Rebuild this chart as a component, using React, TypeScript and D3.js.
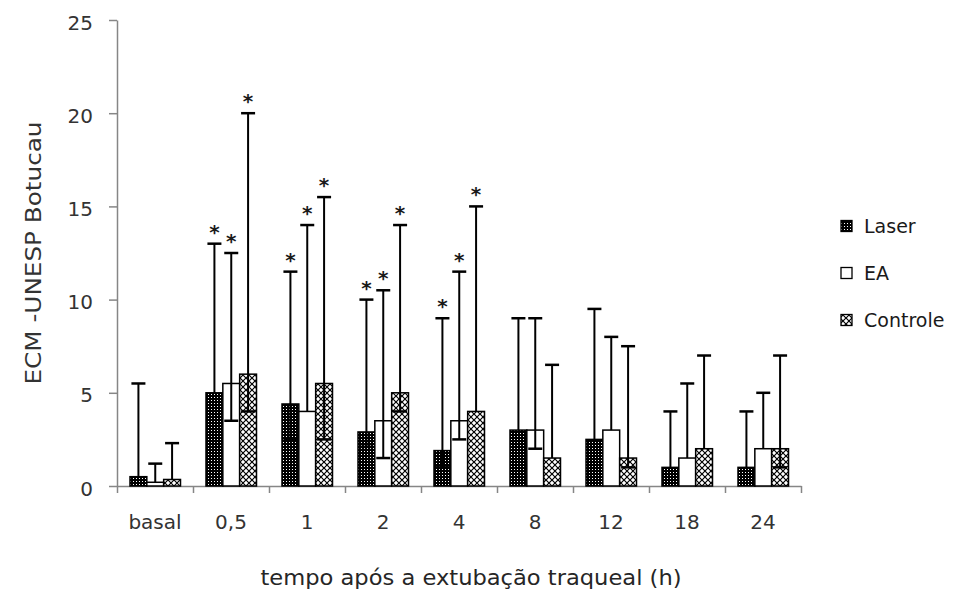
import React, { useEffect, useRef } from 'react'
import * as d3 from 'd3'

// categories on the x axis (hours after extubation)
const categories = ['basal', '0,5', '1', '2', '4', '8', '12', '18', '24']
const seriesNames = ['Laser', 'EA', 'Controle']

// bar heights
const laser = [0.5, 5, 4.4, 2.9, 1.9, 3, 2.5, 1, 1]
const ea = [0.2, 5.5, 4, 3.5, 3.5, 3, 3, 1.5, 2]
const controle = [0.35, 6, 5.5, 5, 4, 1.5, 1.5, 2, 2]

// upper end of the error bars
const laserHigh = [5.5, 13, 11.5, 10, 9, 9, 9.5, 4, 4]
const eaHigh = [1.2, 12.5, 14, 10.5, 11.5, 9, 8, 5.5, 5]
const controleHigh = [2.3, 20, 15.5, 14, 15, 6.5, 7.5, 7, 7]

// lower end of the error bars
const laserLow = [0.5, 5, 2.5, 2.1, 1, 3, 2.5, 1, 1]
const eaLow = [0.2, 3.5, 4, 1.5, 2.5, 2, 3, 1.5, 2]
const controleLow = [0.35, 4, 2.5, 4, 4, 1.5, 1, 2, 1]

// asterisk above every bar of these groups
const significant = [false, true, true, true, true, false, false, false, false]

const yTicks = [0, 5, 10, 15, 20, 25]

const App = () => {
  const svgRef = useRef<SVGSVGElement>(null)

  useEffect(() => {
    const w = 955
    const h = 596
    const svg = d3.select(svgRef.current)
    svg.selectAll('*').remove()
    svg.attr('width', w).attr('height', h)

    const font = '"DejaVu Sans", Verdana, sans-serif'
    const left = 117, right = 801, top = 20, bottom = 486

    const series = [
      { name: seriesNames[0], mean: laser, high: laserHigh, low: laserLow, fill: 'url(#patLaser)' },
      { name: seriesNames[1], mean: ea, high: eaHigh, low: eaLow, fill: '#fff' },
      { name: seriesNames[2], mean: controle, high: controleHigh, low: controleLow, fill: 'url(#patControle)' },
    ]

    // patterns
    const defs = svg.append('defs')
    const pl = defs.append('pattern').attr('id', 'patLaser')
      .attr('patternUnits', 'userSpaceOnUse').attr('width', 3).attr('height', 3)
    pl.append('rect').attr('width', 3).attr('height', 3).attr('fill', '#000')
    pl.append('rect').attr('x', 1).attr('y', 1).attr('width', 1).attr('height', 1).attr('fill', '#fff')

    const pc = defs.append('pattern').attr('id', 'patControle')
      .attr('patternUnits', 'userSpaceOnUse').attr('width', 6).attr('height', 6)
    pc.append('rect').attr('width', 6).attr('height', 6).attr('fill', '#fff')
    pc.append('path').attr('d', 'M0,0L6,6M6,0L0,6').attr('stroke', '#000').attr('stroke-width', 1.2)

    // scales
    const x = d3.scaleBand().domain(categories).range([left, right]).padding(0)
    const xEdge = d3.scaleLinear().domain([0, categories.length]).range([left, right])
    const xInner = d3.scaleBand().domain(seriesNames).range([13, 63.5]).padding(0)
    const y = d3.scaleLinear().domain([0, 25]).range([bottom, top])

    // y axis
    const yAxis = d3.axisLeft(y).tickValues(yTicks).tickSize(8).tickSizeOuter(0).tickPadding(16)
    const gy = svg.append('g').attr('transform', `translate(${left},0)`).call(yAxis)
    gy.select('.domain').attr('stroke', '#868686').attr('stroke-width', 1.5)
    gy.selectAll('.tick line').attr('stroke', '#868686').attr('stroke-width', 1.5)
    gy.selectAll('.tick text').attr('font-family', font).attr('font-size', 20)
      .attr('fill', '#333').attr('dy', '0.45em')

    // x axis, ticks between groups
    const xAxis = d3.axisBottom(xEdge).tickValues(d3.range(categories.length + 1))
      .tickSize(7).tickSizeOuter(0).tickFormat(() => '')
    const gx = svg.append('g').attr('transform', `translate(0,${bottom})`).call(xAxis)
    gx.select('.domain').attr('stroke', '#868686').attr('stroke-width', 1.5)
    gx.selectAll('.tick line').attr('stroke', '#868686').attr('stroke-width', 1.5)

    svg.append('g').selectAll('text').data(categories).join('text')
      .attr('x', d => x(d)! + x.bandwidth() / 2)
      .attr('y', 529)
      .attr('text-anchor', 'middle')
      .attr('font-family', font).attr('font-size', 20).attr('fill', '#333')
      .text(d => d)

    // bars
    const bw = xInner.bandwidth()
    series.forEach(s => {
      const g = svg.append('g')
      g.selectAll('rect').data(categories).join('rect')
        .attr('x', d => x(d)! + xInner(s.name)!)
        .attr('y', (d, i) => y(s.mean[i]))
        .attr('width', bw)
        .attr('height', (d, i) => bottom - y(s.mean[i]))
        .attr('fill', s.fill)
        .attr('stroke', '#000')
        .attr('stroke-width', 1.5)
    })

    // error bars
    const capW = 14
    series.forEach(s => {
      const g = svg.append('g').attr('stroke', '#000').attr('stroke-width', 2)
      categories.forEach((c, i) => {
        const cx = x(c)! + xInner(s.name)! + bw / 2
        g.append('line').attr('x1', cx).attr('x2', cx)
          .attr('y1', y(s.mean[i])).attr('y2', y(s.high[i]))
        g.append('line').attr('x1', cx - capW / 2).attr('x2', cx + capW / 2)
          .attr('y1', y(s.high[i])).attr('y2', y(s.high[i])).attr('stroke-width', 2.5)
        if (s.low[i] < s.mean[i]) {
          g.append('line').attr('x1', cx).attr('x2', cx)
            .attr('y1', y(s.mean[i])).attr('y2', y(s.low[i]))
          g.append('line').attr('x1', cx - capW / 2).attr('x2', cx + capW / 2)
            .attr('y1', y(s.low[i])).attr('y2', y(s.low[i])).attr('stroke-width', 2.5)
        }
        if (significant[i]) {
          svg.append('text').attr('x', cx).attr('y', y(s.high[i]) - 5)
            .attr('text-anchor', 'middle')
            .attr('font-family', font).attr('font-size', 20).attr('font-weight', 'bold')
            .attr('fill', '#1a1a1a').text('*')
        }
      })
    })

    // axis titles
    svg.append('text')
      .attr('transform', 'translate(41,253) rotate(-90)')
      .attr('text-anchor', 'middle')
      .attr('font-family', font).attr('font-size', 22).attr('fill', '#333')
      .attr('textLength', 263).attr('lengthAdjust', 'spacingAndGlyphs')
      .text('ECM -UNESP Botucau')

    svg.append('text')
      .attr('x', 471).attr('y', 585)
      .attr('text-anchor', 'middle')
      .attr('font-family', font).attr('font-size', 21).attr('fill', '#262626')
      .attr('textLength', 421).attr('lengthAdjust', 'spacingAndGlyphs')
      .text('tempo após a extubação traqueal (h)')

    // legend
    const legY = [226, 273, 320]
    const lg = svg.append('g')
    series.forEach((s, i) => {
      lg.append('rect').attr('x', 841).attr('y', legY[i] - 5.5).attr('width', 11).attr('height', 11)
        .attr('fill', s.fill).attr('stroke', '#000').attr('stroke-width', 1.3)
      lg.append('text').attr('x', 864).attr('y', legY[i] + 7)
        .attr('font-family', font).attr('font-size', 19).attr('fill', '#1a1a1a')
        .text(s.name)
    })
  }, [])

  return (
    <svg ref={svgRef} style={{ position: 'absolute', left: 0, top: 0, background: '#fff' }} />
  )
}

export default App
